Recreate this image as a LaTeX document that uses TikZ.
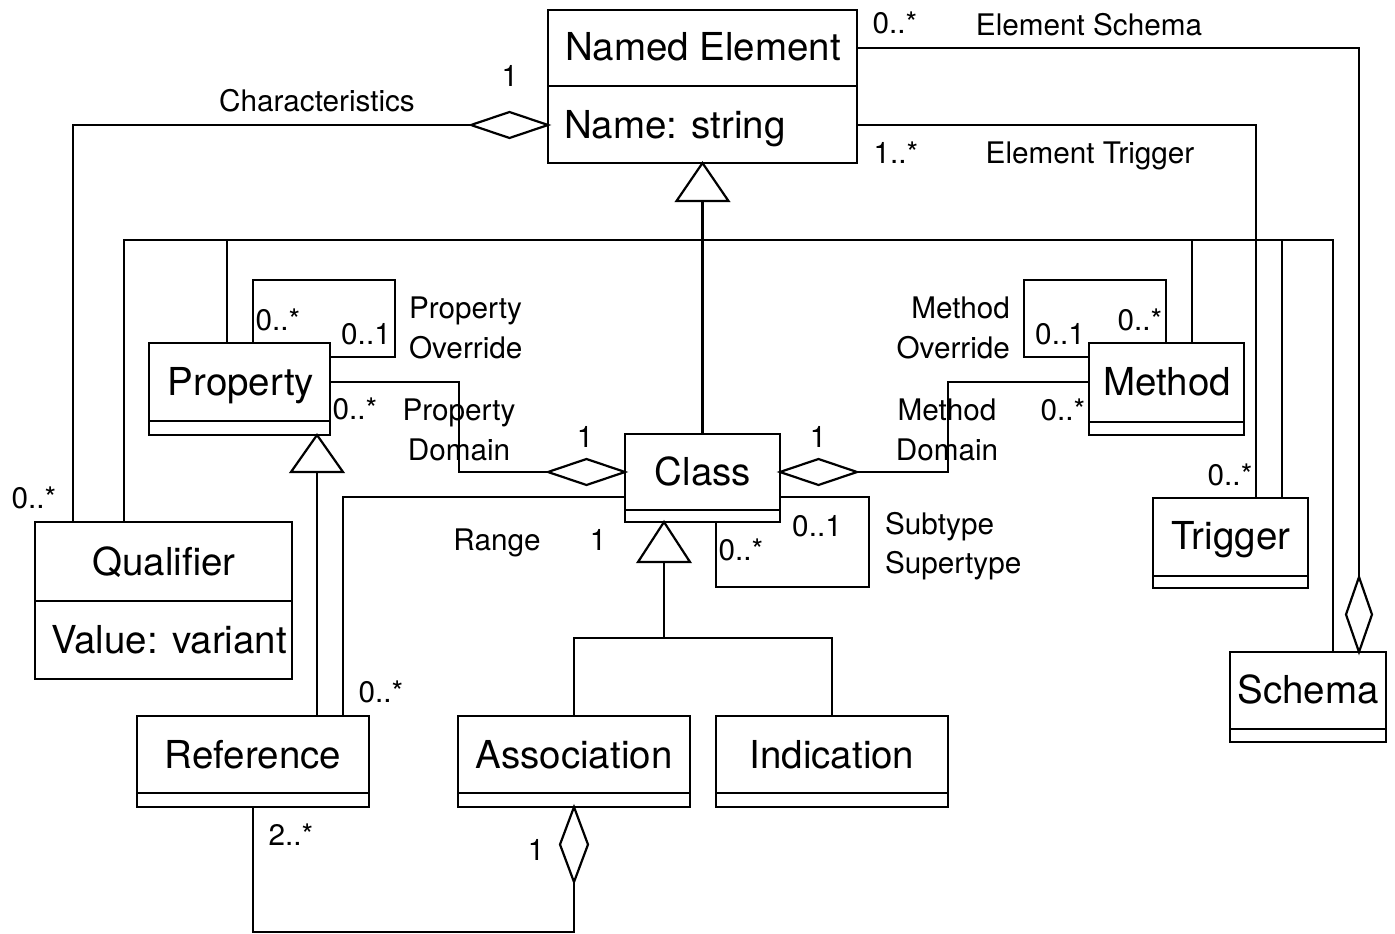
\documentclass[tikz,border=0pt]{standalone}
\usepackage{fontspec}
\setmainfont{TeX Gyre Heros}
\usetikzlibrary{shapes.geometric}

% class box: name, x1, y1, x2, y2, y of the compartment line
\newcommand\umlclass[6]{%
  \node[umlbox, minimum width={(#4-#2)*1pt}, minimum height={(#5-#3)*1pt}]
    (#1) at ({(#2+#4)/2},{(#3+#5)/2}) {};
  \draw (#2,#6) -- (#4,#6);}

\begin{document}
\begin{tikzpicture}[x=1pt,y=-1pt,
  line width=2.2pt, line join=miter,
  umlbox/.style={draw, rectangle, inner sep=0pt, outer sep=0pt},
  agg/.style={draw, diamond, fill=white, inner sep=0pt, outer sep=0pt},
  big/.style={inner sep=0pt, text height=27.6pt, text depth=0pt,
    font=\fontsize{38.5}{46}\selectfont},
  small/.style={inner sep=0pt, text height=21.3pt, text depth=0pt,
    font=\fontsize{29.7}{39.5}\selectfont},
  twoline/.style={inner sep=0pt, font=\fontsize{29.7}{39.5}\selectfont},
  gen/.style={draw, fill=white}]

\useasboundingbox (0,0) rectangle (1395,934);

% ---- classes ----
\umlclass{ne}{548}{10}{857}{163}{86}
\umlclass{prop}{149}{343}{330}{435}{421}
\umlclass{meth}{1089}{343}{1244}{435}{422}
\umlclass{cls}{625}{434}{780}{522}{510}
\umlclass{qual}{35}{522}{292}{679}{601}
\umlclass{ref}{137}{716}{369}{807}{793}
\umlclass{assoc}{458}{716}{690}{807}{793}
\umlclass{ind}{716}{716}{948}{807}{793}
\umlclass{trig}{1153}{498}{1308}{588}{576}
\umlclass{sch}{1230}{652}{1386}{742}{729}

\node[big] (tne) at (703,47) {Named Element};
\node[big, anchor=west] (tname) at (563,125) {Name: string};
\node[big] (tprop) at (241,382) {Property};
\node[big] (tmeth) at (1167,382) {Method};
\node[big] (tcls) at (703,472) {Class};
\node[big] (tqual) at (164,562) {Qualifier};
\node[big, anchor=west] (tval) at (50,640) {Value: variant};
\node[big] (tref) at (253,755) {Reference};
\node[big] (tassoc) at (574,755) {Association};
\node[big] (tind) at (832,755) {Indication};
\node[big] (ttrig) at (1231,536) {Trigger};
\node[big] (tsch) at (1308,690) {Schema};

% ---- aggregation diamonds ----
\node[agg, minimum width=77pt, minimum height=26pt] (chdia) at (509.5,125) {};
\node[agg, minimum width=77pt, minimum height=26pt] (pddia) at (586.5,472) {};
\node[agg, minimum width=77pt, minimum height=26pt] (mddia) at (818.5,472) {};
\node[agg, minimum width=26pt, minimum height=75pt] (scdia) at (1359,614.5) {};
\node[agg, minimum width=28pt, minimum height=75pt] (asdia) at (574,844.5) {};

% ---- associations ----
\draw (chdia.west) -| ([xshift=38pt]qual.north west);
\draw ([yshift=-38pt]ne.north east) -| (scdia.north);
\draw ([yshift=-115pt]ne.north east) -| ([xshift=103pt]trig.north west);
\draw ([xshift=104pt]prop.north west) |- (395,280) |- ([yshift=-14pt]prop.north east);
\draw ([yshift=-39pt]prop.north east) -| (459,472) -- (pddia.west);
\draw (mddia.east) -| (948,382) -- ([yshift=-39pt]meth.north west);
\draw ([xshift=77pt]meth.north west) |- (1024,280) |- ([yshift=-14pt]meth.north west);
\draw ([yshift=-63pt]cls.north west) -| ([xshift=-26pt]ref.north east);
\draw ([yshift=-63pt]cls.north east) -| (869,587) -| ([xshift=91pt]cls.south west);
\draw (asdia.south) |- (253,932) -- (ref.south);

% ---- generalisation ----
\coordinate (negen) at ([yshift=-38pt]ne.south);
\coordinate (bus) at (703,240);
\coordinate (clsgen) at ([xshift=-38.5pt,yshift=-40pt]cls.south);
\coordinate (jn) at (664,638);
\coordinate (refgen) at ([xshift=77.5pt,yshift=-37pt]prop.south);
\draw (negen) -- (cls.north);
\draw (bus) -| ([xshift=89pt]qual.north west);
\draw (bus) -| ([xshift=78pt]prop.north west);
\draw (bus) -| ([xshift=103pt]meth.north west);
\draw (bus) -| ([xshift=129pt]trig.north west);
\draw (bus) -| ([xshift=103pt]sch.north west);
\draw (clsgen) -- (jn);
\draw (assoc.north) |- (jn) -| (ind.north);
\draw (refgen) -- ([xshift=180pt]ref.north west);

\draw[gen] (ne.south) -- ++(-26,38) -- ++(52,0) -- cycle;
\draw[gen] ([xshift=-38.5pt]cls.south) -- ++(-26,40) -- ++(52,0) -- cycle;
\draw[gen] ([xshift=77.5pt]prop.south) -- ++(-26,37) -- ++(52,0) -- cycle;

% ---- role names and multiplicities ----
\node[small] (m1) at (895,23) {0..*};
\node[small] (l1) at (1089,25) {Element Schema};
\node[small] (m2) at (896,153) {1..*};
\node[small] (l2) at (1090,153) {Element Trigger};
\node[small] (l3) at (317,101) {Characteristics};
\node[small] (m3) at (510,76) {1};
\node[small] (m4) at (34,498) {0..*};
\node[small] (m5) at (278,320) {0..*};
\node[small] (m6) at (366,334) {0..1};
\node[twoline, anchor=west, align=left] (l4) at (408,328) {Property\\Override};
\node[small] (m7) at (355,409) {0..*};
\node[twoline, align=center] (l5) at (459,430) {Property\\Domain};
\node[small] (m8) at (585,437) {1};
\node[small] (m9) at (818,437) {1};
\node[twoline, anchor=east, align=right] (l6) at (1011,328) {Method\\Override};
\node[small] (m10) at (1060,334) {0..1};
\node[small] (m11) at (1140,320) {0..*};
\node[small] (m12) at (1063,410) {0..*};
\node[twoline, align=center] (l7) at (947,430) {Method\\Domain};
\node[small] (l8) at (497,540) {Range};
\node[small] (m13) at (598,540) {1};
\node[small] (m14) at (817,526) {0..1};
\node[small] (m15) at (741,550) {0..*};
\node[twoline, anchor=west, align=left] (l9) at (884,546) {Subtype\\Supertype};
\node[small] (m16) at (381,692) {0..*};
\node[small] (m17) at (1230,475) {0..*};
\node[small] (m18) at (291,835) {2..*};
\node[small] (m19) at (536,850) {1};
\end{tikzpicture}
\end{document}
